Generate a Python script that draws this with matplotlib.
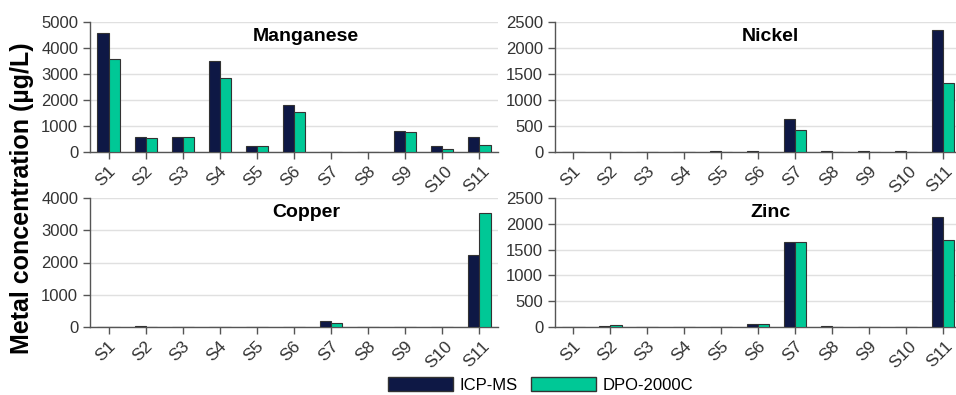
import matplotlib

matplotlib.use("Agg")
import matplotlib.pyplot as plt
import matplotlib.transforms as mtransforms
import numpy as np
from matplotlib.patches import Patch

plt.rcParams["font.family"] = ["Liberation Sans", "DejaVu Sans"]

SAMPLES = ["S1", "S2", "S3", "S4", "S5", "S6", "S7", "S8", "S9", "S10", "S11"]
METHODS = ["ICP-MS", "DPO-2000C"]

MN_ICP = [4590, 580, 580, 3500, 220, 1790, 0, 0, 810, 220, 580]
MN_DPO = [3570, 555, 580, 2850, 220, 1520, 0, 0, 760, 130, 270]
NI_ICP = [0, 0, 0, 0, 12, 12, 640, 12, 12, 12, 2345]
NI_DPO = [0, 0, 0, 0, 0, 0, 425, 0, 0, 0, 1330]
CU_ICP = [15, 35, 0, 0, 15, 15, 180, 15, 0, 0, 2220]
CU_DPO = [0, 0, 0, 0, 0, 0, 125, 0, 0, 0, 3540]
ZN_ICP = [8, 25, 8, 8, 8, 65, 1645, 25, 8, 8, 2125]
ZN_DPO = [0, 38, 0, 0, 0, 65, 1645, 0, 0, 0, 1695]

PANELS = [
    ("Manganese", MN_ICP, MN_DPO, 5000, 1000),
    ("Nickel", NI_ICP, NI_DPO, 2500, 500),
    ("Copper", CU_ICP, CU_DPO, 4000, 1000),
    ("Zinc", ZN_ICP, ZN_DPO, 2500, 500),
]

NAVY = "#0e1845"
TEAL = "#00c896"
EDGE = "#333333"
TXT = "#333333"

# axes boxes in pixels: left, bottom(from top), right, top(from top), xmax
# right-hand panels run off the picture edge in the original, so they stop at
# the figure edge with a trimmed x range instead
W, H = 956, 395
BOXES = [(90, 152, 498, 22, 10.5), (555, 152, 956, 22, 10.35),
         (90, 327, 498, 198, 10.5), (555, 327, 956, 198, 10.35)]

fig = plt.figure(figsize=(W / 100, H / 100), dpi=100)
x = np.arange(len(SAMPLES))
bw = 0.3
# nudge rotated tick labels a few pixels left, like the original
nudge = mtransforms.ScaledTranslation(-3 / 100, 0, fig.dpi_scale_trans)

for (name, icp, dpo, ymax, step), (l, b, r, t, xmax) in zip(PANELS, BOXES):
    ax = fig.add_axes([l / W, 1 - b / H, (r - l) / W, (b - t) / H])
    ax.bar(x - bw / 2, icp, bw, color=NAVY, edgecolor=EDGE, linewidth=0.8, zorder=3)
    ax.bar(x + bw / 2, dpo, bw, color=TEAL, edgecolor=EDGE, linewidth=0.8, zorder=3)
    ax.set_xlim(-0.5, xmax)
    ax.set_ylim(0, ymax)
    ax.set_yticks(np.arange(0, ymax + 1, step))
    ax.set_xticks(x)
    ax.tick_params(axis="both", labelsize=12, colors="#555555", labelcolor=TXT,
                   length=5, width=1)
    ax.tick_params(axis="x", pad=3, labelsize=12.5)
    # tick_params resets label transforms, so nudge after it
    ax.set_xticklabels(SAMPLES, rotation=45, ha="center", va="top")
    for lab in ax.get_xticklabels():
        lab.set_transform(lab.get_transform() + nudge)
    ax.grid(axis="y", color="#e0e0e0", linewidth=1, zorder=0)
    for side in ("top", "right"):
        ax.spines[side].set_visible(False)
    for side in ("left", "bottom"):
        ax.spines[side].set_color("#555555")
        ax.spines[side].set_linewidth(1)
    # title sits a bit right of centre, same pixel spot in every panel
    ax.text(-0.5 + 0.53 * 11, 0.885 * ymax, name, ha="center", va="center",
            fontsize=14, fontweight="bold", color="black")

fig.text(22 / W, 1 - 198 / H, "Metal concentration (µg/L)", rotation=90,
         ha="center", va="center", fontsize=18, fontweight="bold")

handles = [Patch(facecolor=NAVY, edgecolor=EDGE), Patch(facecolor=TEAL, edgecolor=EDGE)]
fig.legend(handles, METHODS, loc="center", bbox_to_anchor=(541 / W, 1 - 385 / H),
           ncol=2, frameon=False, fontsize=12, handlelength=3.9, handleheight=0.9,
           columnspacing=0.8, handletextpad=0.4)

fig.savefig("out.png", dpi=100)
